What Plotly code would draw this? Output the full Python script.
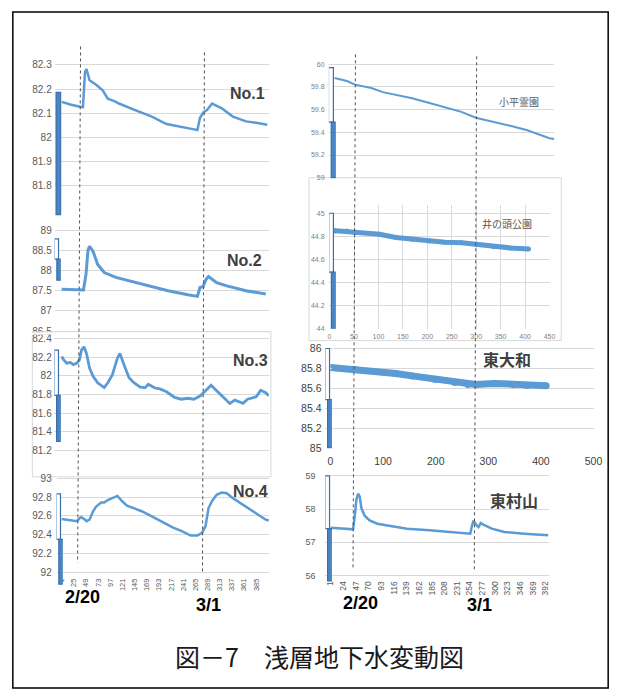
import plotly.graph_objects as go

W, H = 625, 699
LINE = "#5B9BD5"
GRID = "#D9D9D9"
BAR_FILL = "#4A86C6"
BAR_EDGE = "#3A6FA8"

# ---------------- data ----------------
# left column: x = record number (category index)
no1_idx = [1, 18, 37, 43, 47, 50, 56, 69, 82, 92, 105, 114, 146, 179, 208, 236, 265, 269, 274, 281, 288, 298, 317, 339, 365, 385, 407]
no1_val = [82.147, 82.136, 82.127, 82.125, 82.27, 82.283, 82.236, 82.218, 82.195, 82.16, 82.15, 82.14, 82.113, 82.086, 82.055, 82.045, 82.032, 82.03, 82.08, 82.104, 82.113, 82.14, 82.12, 82.086, 82.066, 82.06, 82.052]

no2_idx = [1, 44, 49, 53, 56, 63, 72, 85, 108, 159, 211, 250, 269, 274, 280, 286, 291, 307, 327, 365, 404]
no2_val = [87.54, 87.52, 87.91, 88.51, 88.60, 88.47, 88.15, 87.95, 87.83, 87.66, 87.50, 87.40, 87.36, 87.58, 87.60, 87.78, 87.85, 87.70, 87.62, 87.50, 87.42]

no3_idx = [1, 5, 11, 18, 24, 31, 36, 40, 45, 50, 56, 63, 72, 85, 92, 101, 111, 116, 124, 134, 143, 156, 166, 172, 185, 195, 208, 224, 237, 250, 262, 275, 288, 296, 304, 317, 333, 343, 359, 368, 385, 394, 404, 410]
no3_val = [82.207, 82.172, 82.137, 82.144, 82.12, 82.137, 82.172, 82.277, 82.312, 82.24, 82.084, 81.996, 81.926, 81.874, 81.926, 82.01, 82.19, 82.24, 82.12, 81.98, 81.93, 81.88, 81.874, 81.91, 81.87, 81.86, 81.83, 81.77, 81.75, 81.76, 81.75, 81.786, 81.856, 81.90, 81.856, 81.786, 81.705, 81.74, 81.705, 81.75, 81.775, 81.845, 81.82, 81.786]

no4_idx = [1, 18, 31, 37, 40, 47, 50, 56, 63, 69, 79, 85, 92, 101, 111, 121, 130, 143, 159, 179, 198, 221, 237, 256, 269, 278, 285, 291, 298, 307, 317, 327, 339, 359, 378, 394, 404, 410]
no4_val = [92.568, 92.554, 92.544, 92.58, 92.586, 92.56, 92.544, 92.56, 92.65, 92.70, 92.744, 92.744, 92.77, 92.79, 92.814, 92.754, 92.709, 92.684, 92.65, 92.596, 92.544, 92.474, 92.44, 92.39, 92.39, 92.42, 92.49, 92.684, 92.76, 92.825, 92.85, 92.842, 92.79, 92.72, 92.65, 92.596, 92.56, 92.55]

# right column
kodaira_x = [8, 33, 49, 82, 105, 131, 164, 197, 230, 263, 292, 328, 361, 394, 420, 440, 450]
kodaira_v = [59.878, 59.852, 59.82, 59.79, 59.754, 59.73, 59.70, 59.66, 59.623, 59.58, 59.528, 59.493, 59.458, 59.42, 59.383, 59.348, 59.342]

inokashira_x = [0, 12, 35, 52, 102, 136, 169, 203, 236, 270, 300, 336, 370, 407]
inokashira_v = [44.852, 44.847, 44.847, 44.832, 44.818, 44.79, 44.776, 44.76, 44.75, 44.744, 44.73, 44.71, 44.70, 44.69]

higashiyamato_x = [0, 47, 103, 124, 155, 199, 236, 261, 276, 311, 348, 373, 410]
higashiyamato_v = [85.81, 85.79, 85.76, 85.75, 85.725, 85.69, 85.66, 85.64, 85.64, 85.65, 85.636, 85.63, 85.626]

higashimurayama_idx = [1, 21, 42, 45, 48, 51, 54, 57, 63, 72, 86, 110, 140, 181, 217, 255, 258, 261, 267, 270, 274, 279, 294, 317, 353, 397]
higashimurayama_v = [57.44, 57.42, 57.39, 57.78, 58.28, 58.46, 58.38, 58.03, 57.80, 57.66, 57.56, 57.49, 57.41, 57.36, 57.32, 57.26, 57.49, 57.65, 57.50, 57.46, 57.58, 57.53, 57.41, 57.31, 57.26, 57.21]

# side gauge bars (top of outline, top of filled part, bottom)
gauge_top = [82.186, 88.78, 82.276, 92.836, 59.97, 45.0, 86.0, 59.0]
gauge_mid = [82.186, 88.28, 81.79, 92.35, 59.49, 44.49, 85.488, 57.41]
gauge_bot = [81.68, 87.76, 81.296, 91.87, 59.0, 44.0, 85.0, 55.82]

# tick labels
no1_ticks = [81.8, 81.9, 82, 82.1, 82.2, 82.3]
no2_ticks = [86.5, 87, 87.5, 88, 88.5, 89]
no3_ticks = [81.2, 81.4, 81.6, 81.8, 82, 82.2, 82.4]
no4_ticks = [92, 92.2, 92.4, 92.6, 92.8, 93]
kod_ticks = [59, 59.2, 59.4, 59.6, 59.8, 60]
ino_ticks = [44, 44.2, 44.4, 44.6, 44.8, 45]
hy_ticks = [85, 85.2, 85.4, 85.6, 85.8, 86]
hm_ticks = [56, 57, 58, 59]
left_xticks = [1, 25, 49, 73, 97, 121, 145, 169, 193, 217, 241, 265, 289, 313, 337, 361, 385]
hm_xticks = [1, 24, 47, 70, 93, 116, 139, 162, 185, 208, 231, 254, 277, 300, 323, 346, 369, 392]
ino_xticks = [0, 50, 100, 150, 200, 250, 300, 350, 400, 450]
hy_xticks = [0, 100, 200, 300, 400, 500]

# ---------------- layout helpers ----------------
def fx(p):
    return p / W

def fy(p):
    return 1 - p / H

def yrange(va, pa, vb, pb, ptop, pbot):
    s = (vb - va) / (pb - pa)
    return [va + (pbot - pa) * s, va + (ptop - pa) * s]

FONT = "Liberation Sans, Arial, sans-serif"

panels = [
    dict(xd=(57, 270), yd=(55, 216), xr=[-0.93, 410.3], cal=(82.3, 62.7, 81.8, 185.0), yt=no1_ticks,
         fs=10, so=8, lw=2.5, x=no1_idx, y=no1_val, g=(52.2, 57.0), col="#595959"),
    dict(xd=(57, 270), yd=(222, 334), xr=[-0.93, 410.3], cal=(89, 230.0, 87, 312.0), yt=no2_ticks,
         fs=10, so=8, lw=3, x=no2_idx, y=no2_val, g=(51.8, 56.0), col="#595959"),
    dict(xd=(57, 270), yd=(337, 456), xr=[-0.93, 410.3], cal=(82.4, 340.0, 81.2, 453.3), yt=no3_ticks,
         fs=10, so=8, lw=2.8, x=no3_idx, y=no3_val, g=(51.5, 56.0), col="#595959"),
    dict(xd=(57, 270), yd=(478, 590), xr=[-0.93, 410.3], cal=(93, 481.7, 92, 576.5), yt=no4_ticks,
         fs=10, so=8, lw=2.5, x=no4_idx, y=no4_val, g=(53.8, 58.0), col="#595959"),
    dict(xd=(333, 562), yd=(58, 178), xr=[0, 450], cal=(60, 62.0, 59, 177.0), yt=kod_ticks,
         fs=7, so=5, lw=2, x=kodaira_x, y=kodaira_v, g=(332.3, 337.3), col="#7F7F7F"),
    dict(xd=(332, 557), yd=(205, 330), xr=[0, 450], cal=(45, 213.0, 44, 330.0), yt=ino_ticks,
         fs=7, so=4, lw=5, x=inokashira_x, y=inokashira_v, g=(332.5, 337.3), col="#7F7F7F"),
    dict(xd=(333, 602), yd=(345, 451), xr=[0, 500], cal=(86, 350.0, 85, 451.0), yt=hy_ticks,
         fs=10.5, so=8, lw=7, x=higashiyamato_x, y=higashiyamato_v, g=(328.7, 333.3), col="#404040"),
    dict(xd=(333, 556), yd=(474, 586), xr=[1, 397.3], cal=(59, 479.0, 56, 580.0), yt=hm_ticks,
         fs=9, so=14, lw=2.5, x=higashimurayama_idx, y=higashimurayama_v, g=(328.7, 333.3), col="#595959"),
]

fig = go.Figure()
layout = dict(
    width=W, height=H, margin=dict(l=0, r=0, t=0, b=0),
    paper_bgcolor="white", plot_bgcolor="rgba(0,0,0,0)", showlegend=False,
    font=dict(family=FONT, color="#404040"), hovermode=False,
)

n = len(panels)
for i, p in enumerate(panels):
    k = i + 1
    xa = "xaxis" if k == 1 else f"xaxis{k}"
    ya = "yaxis" if k == 1 else f"yaxis{k}"
    xr_ = "x" if k == 1 else f"x{k}"
    yr_ = "y" if k == 1 else f"y{k}"
    yrng = yrange(*p["cal"], p["yd"][0], p["yd"][1])
    layout[xa] = dict(domain=[fx(p["xd"][0]), fx(p["xd"][1])], range=p["xr"], anchor=yr_,
                      showgrid=False, zeroline=False, showline=False, showticklabels=False, ticks="")
    layout[ya] = dict(domain=[fy(p["yd"][1]), fy(p["yd"][0])], range=yrng, anchor=xr_,
                      showgrid=True, gridcolor=GRID, gridwidth=1, zeroline=False, showline=False,
                      tickmode="array", tickvals=p["yt"], ticktext=[f"{v:g}" for v in p["yt"]],
                      ticks="", ticklabelstandoff=p["so"],
                      tickfont=dict(size=p["fs"], color=p["col"], family=FONT))
    mode = "lines+markers" if p["lw"] >= 5 else "lines"
    fig.add_trace(go.Scatter(x=p["x"], y=p["y"], xaxis=xr_, yaxis=yr_, mode=mode,
                             line=dict(color=LINE, width=p["lw"]),
                             marker=dict(color=LINE, size=p["lw"]),
                             hoverinfo="skip"))
    # gauge bar on its own narrow x axis sharing the panel's y axis
    gk = n + k
    gxa = f"xaxis{gk}"
    gxr = f"x{gk}"
    g0, g1 = p["g"]
    gw = g1 - g0
    layout[gxa] = dict(domain=[fx(g0 - 1), fx(g1 + 1)], range=[0, 1], anchor=yr_, visible=False)
    frac = gw / (gw + 2)
    if gauge_top[i] > gauge_mid[i]:
        fig.add_trace(go.Bar(x=[0.5], y=[gauge_top[i] - gauge_mid[i]], base=[gauge_mid[i]], width=[frac],
                             xaxis=gxr, yaxis=yr_, marker=dict(color="white", line=dict(color=BAR_EDGE, width=1.2)),
                             hoverinfo="skip"))
    fig.add_trace(go.Bar(x=[0.5], y=[gauge_mid[i] - gauge_bot[i]], base=[gauge_bot[i]], width=[frac],
                         xaxis=gxr, yaxis=yr_, marker=dict(color=BAR_FILL, line=dict(color=BAR_EDGE, width=1.2)),
                         hoverinfo="skip"))

# x axes with labels
layout["xaxis4"].update(showticklabels=True, tickmode="array", tickvals=left_xticks,
                        ticktext=[str(v) for v in left_xticks], tickangle=-90,
                        anchor="free", position=fy(577.5), ticklabelstandoff=3,
                        tickfont=dict(size=7.5, color="#595959", family=FONT))
layout["xaxis6"].update(showticklabels=True, showgrid=True, gridcolor=GRID, tickmode="array",
                        tickvals=ino_xticks, ticktext=[str(v) for v in ino_xticks], ticklabelstandoff=2,
                        tickfont=dict(size=7, color="#7F7F7F", family=FONT))
layout["xaxis7"].update(showticklabels=True, tickmode="array", tickvals=hy_xticks,
                        ticktext=[str(v) for v in hy_xticks], ticklabelstandoff=5,
                        tickfont=dict(size=10.5, color="#404040", family=FONT))
layout["xaxis8"].update(showticklabels=True, tickmode="array", tickvals=hm_xticks,
                        ticktext=[str(v) for v in hm_xticks], tickangle=-90,
                        anchor="free", position=fy(581), ticklabelstandoff=2,
                        tickfont=dict(size=8.5, color="#595959", family=FONT))

shapes = []
# panel frames
shapes.append(dict(type="rect", xref="paper", yref="paper", x0=fx(28), x1=fx(272), y0=fy(480), y1=fy(333),
                   line=dict(color=GRID, width=1), fillcolor="white", layer="below"))
shapes.append(dict(type="rect", xref="paper", yref="paper", x0=fx(311), x1=fx(569), y0=fy(342), y1=fy(177),
                   line=dict(color=GRID, width=1), fillcolor="white", layer="below"))
# partially hidden "86.5" label
shapes.append(dict(type="rect", xref="paper", yref="paper", x0=fx(20), x1=fx(50), y0=fy(336.0), y1=fy(333.6),
                   line=dict(width=0), fillcolor="white", layer="above"))
shapes.append(dict(type="line", xref="paper", yref="paper", x0=fx(28), x1=fx(50), y0=fy(333), y1=fy(333),
                   line=dict(color=GRID, width=1), layer="above"))
# date marker lines
for (xa_, ya_, xb_, yb_) in [(77.3, 44, 74.3, 567), (204, 50, 202, 578), (358.5, 52, 356, 572), (482.5, 54, 480, 576)]:
    shapes.append(dict(type="line", xref="paper", yref="paper", x0=fx(xa_), y0=fy(ya_), x1=fx(xb_), y1=fy(yb_),
                       line=dict(color="#505050", width=1, dash="dot"), layer="above"))
# outer frame
shapes.append(dict(type="rect", xref="paper", yref="paper", x0=fx(8), x1=fx(617), y0=fy(694), y1=fy(9),
                   line=dict(color="black", width=1.5), layer="above"))
layout["shapes"] = shapes

def ann(text, x, y, size, color="#404040", bold=True, family=FONT):
    t = f"<b>{text}</b>" if bold else text
    return dict(text=t, x=fx(x), y=fy(y), xref="paper", yref="paper", showarrow=False,
                xanchor="center", yanchor="middle", font=dict(size=size, color=color, family=family))

CJK = "Noto Sans CJK JP, sans-serif"
layout["annotations"] = [
    ann("No.1", 248, 92, 16),
    ann("No.2", 245, 261, 16),
    ann("No.3", 251, 362, 16),
    ann("No.4", 251, 495, 16),
    ann("小平霊園", 526, 100, 10, color="#595959", bold=False, family=CJK),
    ann("井の頭公園", 514, 223, 10, color="#595959", bold=False, family=CJK),
    ann("東大和", 513, 361, 16, family=CJK),
    ann("東村山", 521, 503, 16, family=CJK),
    ann("2/20", 79, 602, 18, color="black"),
    ann("3/1", 208, 610, 18, color="black"),
    ann("2/20", 364, 608, 18, color="black"),
    ann("3/1", 485, 610, 18, color="black"),
    ann("図－7　浅層地下水変動図", 322, 662, 25, color="#1a1a1a", bold=False, family=CJK),
]

fig.update_layout(**layout)
fig.write_html("out.html", config={"displayModeBar": False, "staticPlot": True},
               post_script="document.body.style.margin='0';document.documentElement.style.overflow='hidden';")
